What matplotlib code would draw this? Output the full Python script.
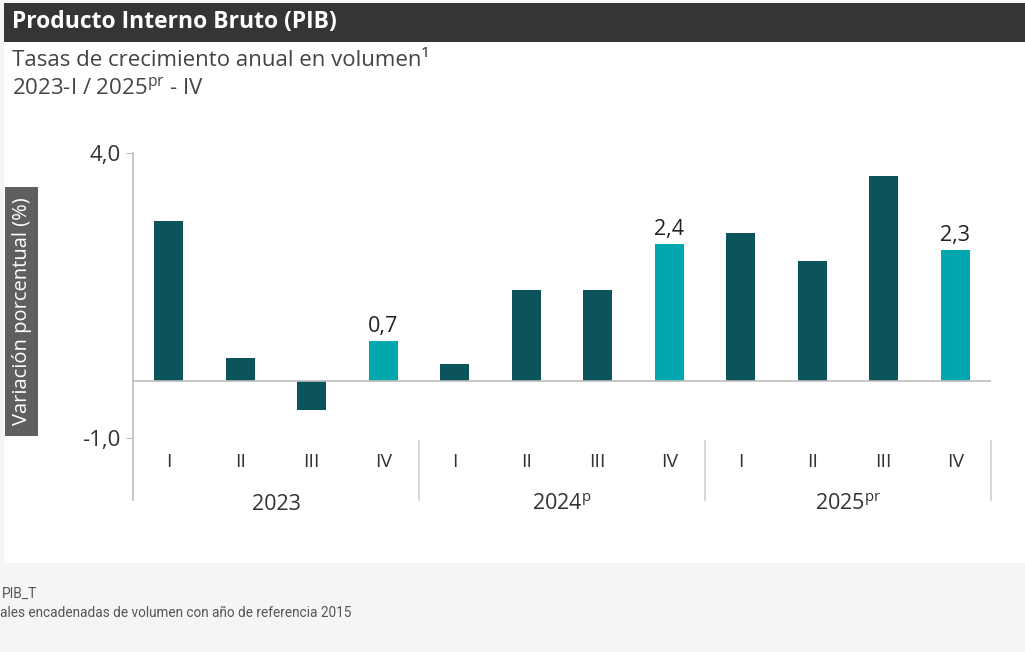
import matplotlib
matplotlib.use("Agg")
import matplotlib.pyplot as plt
from matplotlib.patches import Rectangle
from matplotlib import font_manager

plt.rcParams['font.family'] = ['Open Sans', 'DejaVu Sans']
plt.rcParams['mathtext.fontset'] = 'custom'
plt.rcParams['mathtext.rm'] = 'Open Sans'

# ---- data ----
quarters = ["I", "II", "III", "IV"] * 3
years = ["2023", r"2024$^{\mathregular{p}}$", r"2025$^{\mathregular{pr}}$"]
values = [2.8, 0.4, -0.5, 0.7, 0.3, 1.6, 1.6, 2.4, 2.6, 2.1, 3.6, 2.3]
highlight = [False, False, False, True, False, False, False, True, False, False, False, True]
yticks = [-1.0, 4.0]
ytick_labels = ["-1,0", "4,0"]

DARK = "#0b545b"
LIGHT = "#00a7ae"
GRID = "#bdbdbd"
TXT = "#333333"

names = {f.name for f in font_manager.fontManager.ttflist}
narrow = "Liberation Sans Narrow" if "Liberation Sans Narrow" in names else "Open Sans"

W, H = 1025, 652
fig = plt.figure(figsize=(W / 100, H / 100), dpi=100)
fig.patch.set_facecolor("#f5f5f5")

def fx(px):
    return px / W

def fy(py):
    return 1 - py / H

# white card
fig.patches.append(Rectangle((fx(4), fy(563)), fx(1021), 560 / H,
                             transform=fig.transFigure, facecolor="white",
                             edgecolor="none", zorder=0))
# title bar
fig.patches.append(Rectangle((fx(4), fy(42)), fx(1021), 39 / H,
                             transform=fig.transFigure, facecolor="#353535",
                             edgecolor="none", zorder=1))
fig.text(fx(12), fy(22), "Producto Interno Bruto (PIB)", color="white",
         fontsize=16.5, fontweight="bold", va="center", ha="left")
fig.text(fx(12), fy(61), "Tasas de crecimiento anual en volumen\u00b9", color="#444444",
         fontsize=16, va="center", ha="left")
fig.text(fx(12), fy(88), r"2023-I / 2025$^{\mathregular{pr}}$ - IV", color="#444444",
         fontsize=16, va="center", ha="left")

# y-label box
fig.patches.append(Rectangle((fx(5), fy(436)), fx(33), 249 / H,
                             transform=fig.transFigure, facecolor="#5f5f5f",
                             edgecolor="none", zorder=1))
fig.text(fx(22), fy(311), "Variación porcentual (%)", color="white", rotation=90,
         fontsize=14.5, va="center", ha="center")

# footer
fig.text(fx(2), fy(594), "PIB_T", color="#555555", fontsize=9.8, va="center", ha="left",
         family=["Roboto", "DejaVu Sans"])
fig.text(fx(0), fy(613), "ales encadenadas de volumen con año de referencia 2015",
         color="#555555", fontsize=9.8, va="center", ha="left",
         family=["Roboto", "DejaVu Sans"])

# ---- axes ----
ax = fig.add_axes([fx(133), fy(500), fx(858), (500 - 153) / H])
ax.set_zorder(5)
ax.set_facecolor("none")
ymax = 4.0
ymin = ymax - (500 - 153) / 57.0
ax.set_ylim(ymin, ymax)
ax.set_xlim(-0.5, len(values) - 0.5)

x = list(range(len(values)))
colors = [LIGHT if h else DARK for h in highlight]
ax.bar(x, values, width=0.41, color=colors, zorder=2)
ax.axhline(0, color=GRID, lw=1.2, zorder=3)

for xi, v, h in zip(x, values, highlight):
    if h:
        ax.text(xi, v + 0.07, f"{v:.1f}".replace(".", ","), ha="center", va="bottom",
                fontsize=15.5, color="#222222")

for sp in ["top", "right", "bottom"]:
    ax.spines[sp].set_visible(False)
ax.spines["left"].set_color(GRID)
ax.spines["left"].set_linewidth(1.2)

ax.set_yticks(yticks)
ax.set_yticklabels(ytick_labels, fontsize=16, color=TXT)
ax.tick_params(axis="y", length=5, color=GRID, pad=4)
ax.set_xticks([])

# quarter labels
yq = ymax - (462 - 153) / 57.0
for xi, q in zip(x, quarters):
    ax.text(xi, yq, q, ha="center", va="center", fontsize=14, color=TXT,
            family=[narrow, "DejaVu Sans"])

# group separators
ysep_top = ymax - (441 - 153) / 57.0
for g in range(1, 4):
    xs = 4 * g - 0.5
    ax.plot([xs, xs], [ysep_top, ymin], color="#cfcfcf", lw=1.2, clip_on=False)

# year labels
yy = ymax - (504 - 153) / 57.0
for g, yl in enumerate(years):
    ax.text(4 * g + 1.5, yy, yl, ha="center", va="center", fontsize=15.5, color=TXT)

fig.savefig("out.png", dpi=100, facecolor=fig.get_facecolor())
